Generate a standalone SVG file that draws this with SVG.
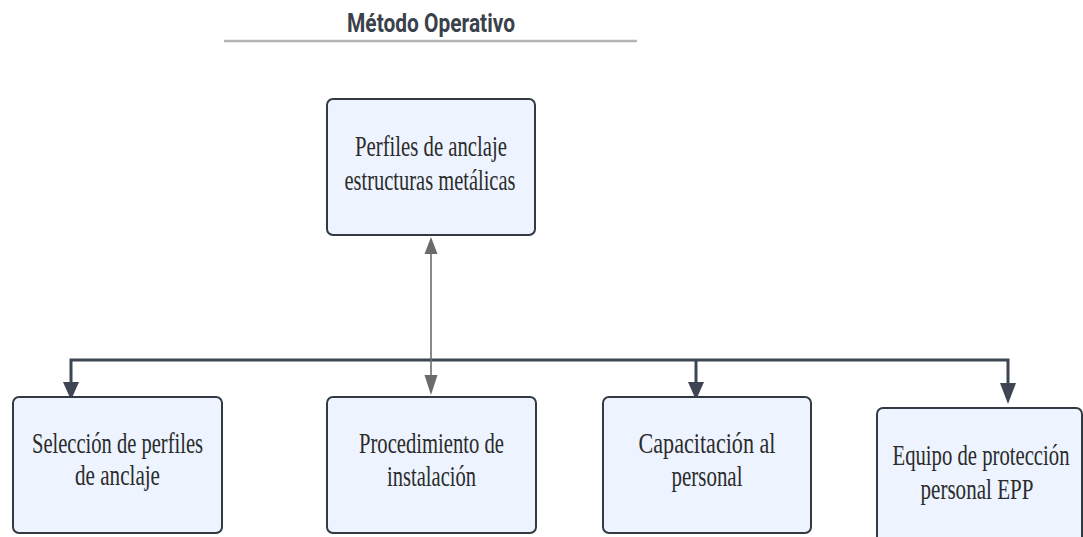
<svg xmlns="http://www.w3.org/2000/svg" width="1083" height="537" viewBox="0 0 1083 537">
<style>
.box{fill:#edf4ff;stroke:#333a42;stroke-width:2}
.lbl{font-family:"Liberation Serif",serif;font-size:30px;fill:#2b2b2b;text-anchor:middle}
.title{font-family:Roboto,"Liberation Sans",sans-serif;font-weight:bold;font-size:26px;fill:#3a414a;text-anchor:middle}
.main{fill:none;stroke:#3d4652;stroke-width:3}
.thin{fill:none;stroke:#6b6b6b;stroke-width:1.6}
.hd{fill:#3d4652}
.hg{fill:#6b6b6b}
</style>
<rect width="1083" height="537" fill="#ffffff"/>
<g id="title">
<text class="title" x="431" y="32" textLength="168" lengthAdjust="spacingAndGlyphs">Método Operativo</text>
<line x1="224" y1="41" x2="637" y2="41" stroke="#b3b3b3" stroke-width="2.5"/>
</g>
<g id="connectors">
<path class="main" d="M71,383 L71,360 L1008,360 L1008,383"/>
<line class="main" x1="696" y1="360" x2="696" y2="383"/>
<path class="hd" d="M63,382 L79,382 L71,400 Z"/>
<path class="hd" d="M688,382 L704,382 L696,400 Z"/>
<path class="hd" d="M1000,383 L1016,383 L1008,404 Z"/>
<line class="thin" x1="431" y1="250" x2="431" y2="378"/>
<path class="hg" d="M424.5,254 L437.5,254 L431,237 Z"/>
<path class="hg" d="M424.5,375 L437.5,375 L431,395 Z"/>
</g>
<g id="node-top">
<rect class="box" x="327" y="99" width="208" height="136" rx="6"/>
<text class="lbl" x="431" y="156" textLength="152" lengthAdjust="spacingAndGlyphs">Perfiles de anclaje</text>
<text class="lbl" x="430" y="190" textLength="171" lengthAdjust="spacingAndGlyphs">estructuras metálicas</text>
</g>
<g id="node-seleccion">
<rect class="box" x="13" y="397" width="209" height="136" rx="6"/>
<text class="lbl" x="117.5" y="453" textLength="171" lengthAdjust="spacingAndGlyphs">Selección de perfiles</text>
<text class="lbl" x="117.5" y="485" textLength="85" lengthAdjust="spacingAndGlyphs">de anclaje</text>
</g>
<g id="node-procedimiento">
<rect class="box" x="327" y="397" width="209" height="136" rx="6"/>
<text class="lbl" x="431.5" y="453" textLength="145" lengthAdjust="spacingAndGlyphs">Procedimiento de</text>
<text class="lbl" x="431.5" y="486" textLength="89" lengthAdjust="spacingAndGlyphs">instalación</text>
</g>
<g id="node-capacitacion">
<rect class="box" x="603" y="397" width="208" height="136" rx="6"/>
<text class="lbl" x="707" y="453" textLength="137" lengthAdjust="spacingAndGlyphs">Capacitación al</text>
<text class="lbl" x="707" y="486" textLength="71" lengthAdjust="spacingAndGlyphs">personal</text>
</g>
<g id="node-epp">
<rect class="box" x="877" y="408" width="205" height="140" rx="6"/>
<text class="lbl" x="981" y="465" textLength="177" lengthAdjust="spacingAndGlyphs">Equipo de protección</text>
<text class="lbl" x="977" y="499" textLength="113" lengthAdjust="spacingAndGlyphs">personal EPP</text>
</g>
</svg>
